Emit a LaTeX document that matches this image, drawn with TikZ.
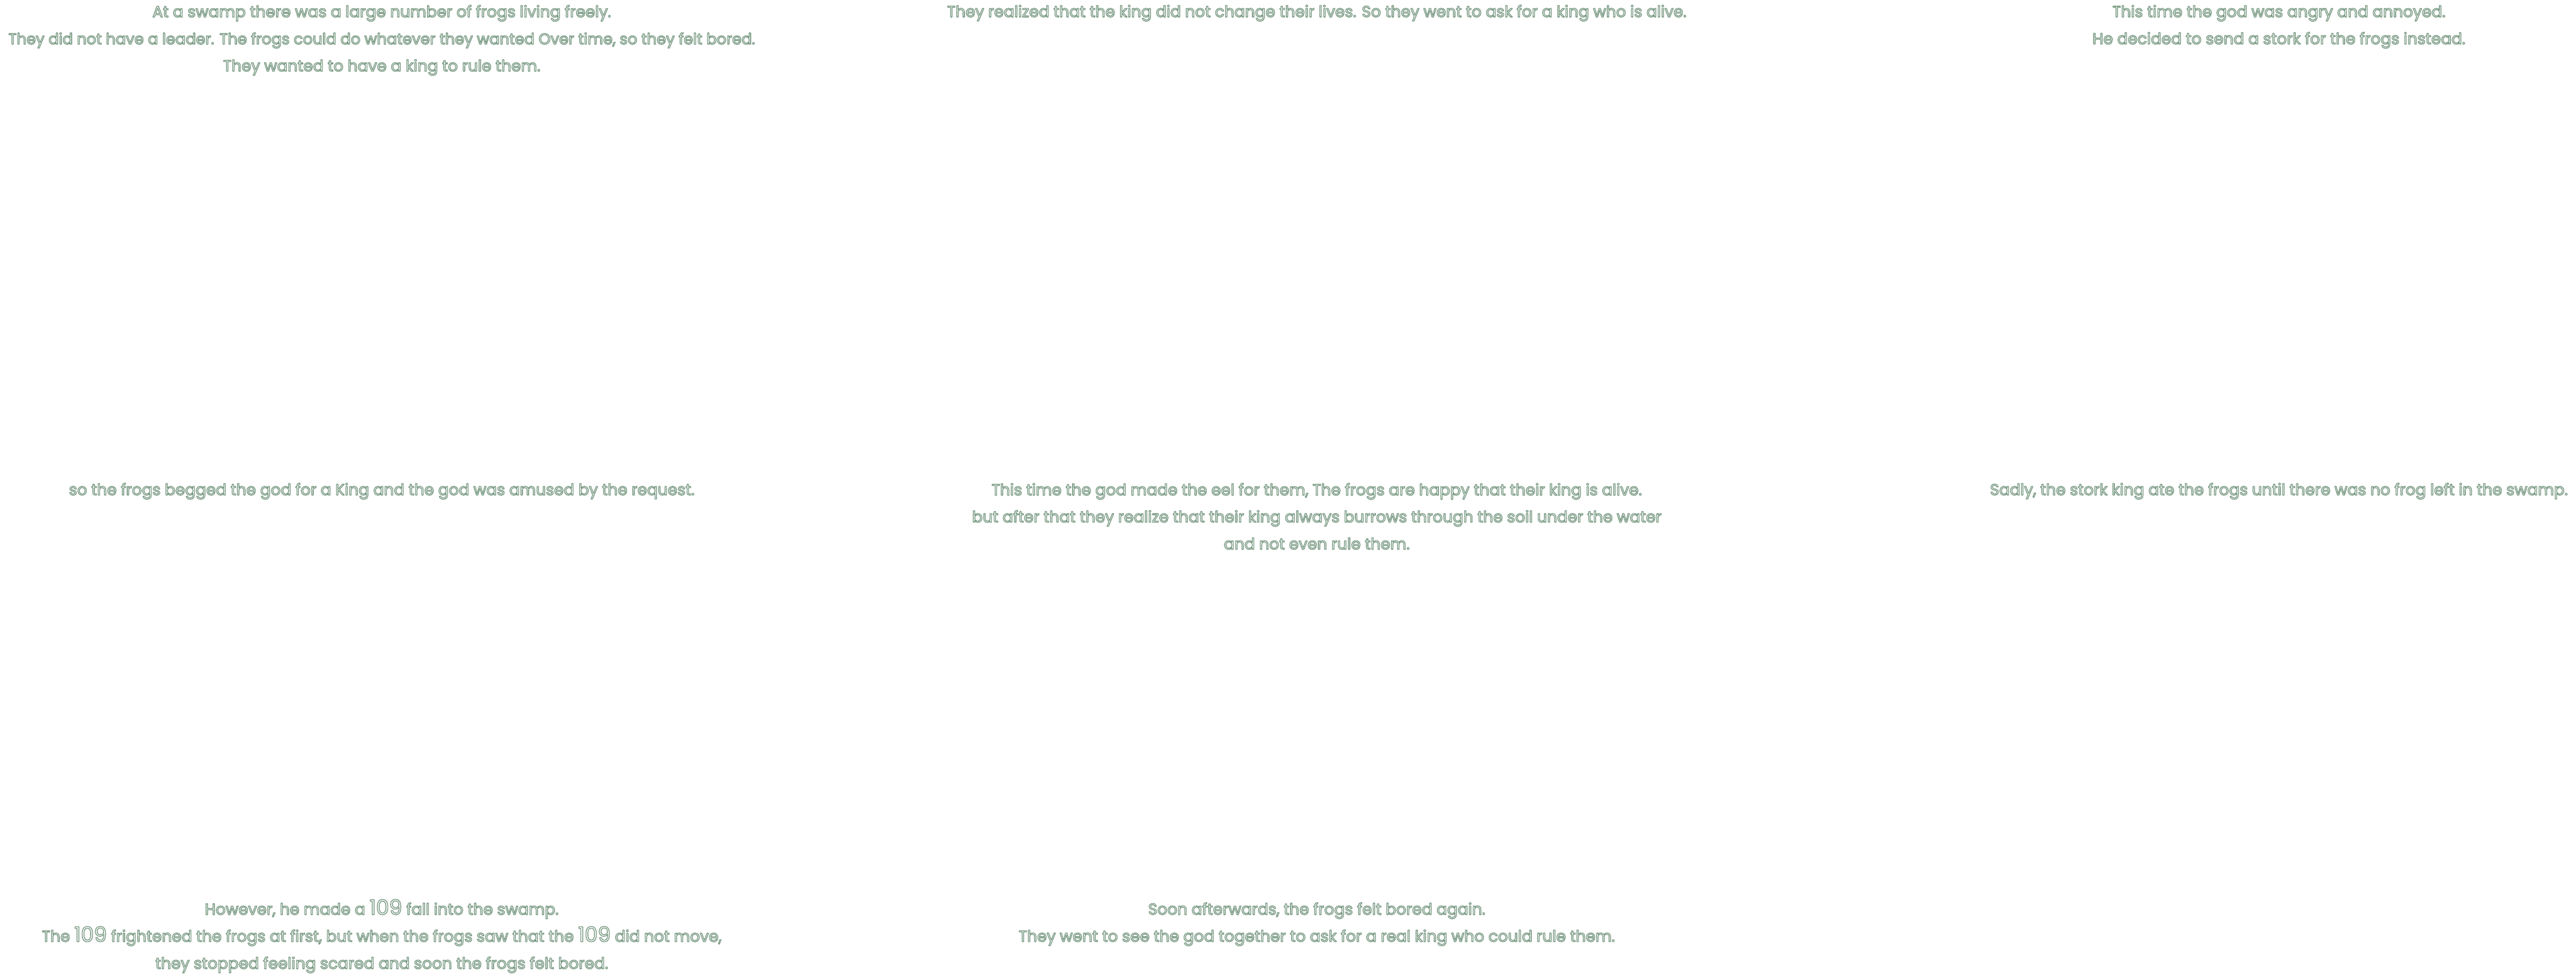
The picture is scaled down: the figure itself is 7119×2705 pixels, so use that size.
\documentclass[tikz,border=0pt]{standalone}
\usepackage{fontspec}
\setmainfont{Poppins}
\newcommand\glowon{\special{pdf:literal direct 2 Tr 0.55 w 1 j 0.47 0.60 0.51 RG}}
\newcommand\bignum[1]{{\fontsize{14.3pt}{18.7pt}\selectfont #1}}
\newcommand\tightline[1]{{\fontsize{10.5pt}{18.7pt}\selectfont #1}}
\tikzset{
  story/.style={anchor=base, inner sep=0pt, align=center, text=white,
    font=\fontsize{10.8pt}{18.7pt}\selectfont}
}
\begin{document}
\begin{tikzpicture}[x=0.25pt,y=-0.25pt]
\useasboundingbox (0,0) rectangle (7119,2705);
\fill[white] (0,0) rectangle (7119,2705);
% anchor=base of a multi-line node is the baseline of its last line
\node[story] (b1) at (1055,197) {\glowon At a swamp there was a large number of frogs living freely.\\
\tightline{They did not have a leader. The frogs could do whatever they wanted Over time, so they felt bored.}\\
They wanted to have a king to rule them.};
\node[story] (b2) at (3639,47) {\glowon They realized that the king did not change their lives. So they went to ask for a king who is alive.};
\node[story] (b3) at (6298,122) {\glowon This time the god was angry and annoyed.\\
He decided to send a stork for the frogs instead.};
\node[story] (b4) at (1055,1368) {\glowon so the frogs begged the god for a King and the god was amused by the request.};
\node[story] (b5) at (3639,1518) {\glowon This time the god made the eel for them, The frogs are happy that their king is alive.\\
but after that they realize that their king always burrows through the soil under the water\\
and not even rule them.};
\node[story] (b6) at (6298,1368) {\glowon Sadly, the stork king ate the frogs until there was no frog left in the swamp.};
\node[story] (b7) at (1055,2677) {\glowon However, he made a \bignum{109} fall into the swamp.\\
The \bignum{109} frightened the frogs at first, but when the frogs saw that the \bignum{109} did not move,\\
they stopped feeling scared and soon the frogs felt bored.};
\node[story] (b8) at (3639,2602) {\glowon Soon afterwards, the frogs felt bored again.\\
They went to see the god together to ask for a real king who could rule them.};
\end{tikzpicture}
\end{document}
